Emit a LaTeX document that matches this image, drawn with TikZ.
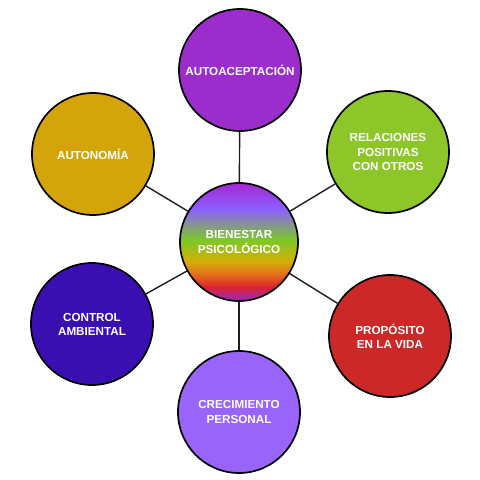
\documentclass[tikz,border=0pt]{standalone}
\usepackage{fontspec}
\setmainfont{Liberation Sans}
\usepackage{xcolor}
\usetikzlibrary{positioning}

\definecolor{autoColor}{RGB}{155,45,205}
\definecolor{relColor}{RGB}{140,198,40}
\definecolor{propColor}{RGB}{205,40,40}
\definecolor{crecColor}{RGB}{152,100,250}
\definecolor{ctrlColor}{RGB}{58,15,178}
\definecolor{autonColor}{RGB}{212,165,10}
\definecolor{lineColor}{RGB}{30,30,30}

\definecolor{rbPurple}{RGB}{165,40,210}
\definecolor{rbViolet}{RGB}{140,95,255}
\definecolor{rbGreen}{RGB}{125,200,40}
\definecolor{rbYellow}{RGB}{210,175,5}
\definecolor{rbOrange}{RGB}{228,120,25}
\definecolor{rbRed}{RGB}{220,35,45}
\definecolor{rbBottom}{RGB}{155,40,200}

\pgfdeclareverticalshading{arcoiris}{100bp}{%
  color(0bp)=(rbBottom); color(25bp)=(rbBottom); color(31bp)=(rbRed);
  color(37bp)=(rbOrange); color(42bp)=(rbYellow); color(51bp)=(rbGreen);
  color(64bp)=(rbViolet); color(75bp)=(rbPurple); color(100bp)=(rbPurple)}

\begin{document}
\begin{tikzpicture}[
    circ/.style={circle, draw=black, line width=1.2pt, minimum size=3.05cm, inner sep=0pt, align=center,
                 text=white, font=\fontsize{8.3}{10}\selectfont\bfseries},
    enlace/.style={draw=lineColor, line width=1pt}
]
    \useasboundingbox (-5.975,-5.95) rectangle (6.025,6.05);

    % Centro
    \node[circ, shading=arcoiris, minimum size=2.95cm] (centro) at (0,0) {BIENESTAR\\PSICOLÓGICO};

    % Dimensiones
    \node[circ, fill=autoColor] (autoac) at (0.025, 4.3) {AUTOACEPTACIÓN};
    \node[circ, fill=relColor] (relac) at (3.725, 2.25) {RELACIONES\\POSITIVAS\\CON OTROS};
    \node[circ, fill=propColor] (prop) at (3.775, -2.35) {PROPÓSITO\\EN LA VIDA};
    \node[circ, fill=crecColor] (crec) at (0, -4.25) {CRECIMIENTO\\PERSONAL};
    \node[circ, fill=ctrlColor] (ctrl) at (-3.675, -2.05) {CONTROL\\AMBIENTAL};
    \node[circ, fill=autonColor] (auton) at (-3.65, 2.2) {AUTONOMÍA};

    % Enlaces
    \foreach \n in {autoac, relac, prop, crec, ctrl, auton}
        \draw[enlace] (centro) -- (\n);
\end{tikzpicture}
\end{document}
